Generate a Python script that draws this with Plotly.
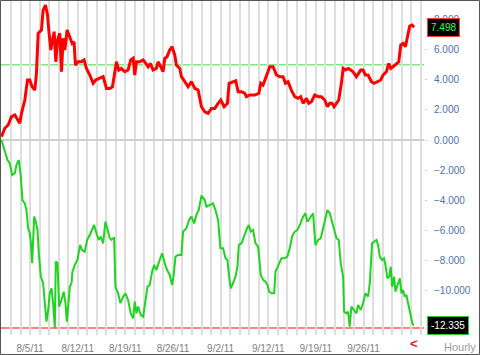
import plotly.graph_objects as go

# ---------------- data (x = trading-day index from 8/2/11, y = value) ----------------
red_x = [0.00, 0.35, 0.70, 1.05, 1.40, 1.68, 1.92, 2.10, 2.45, 2.73, 2.97, 3.22, 3.50, 3.67, 3.85,
         4.20, 4.37, 4.62, 4.83, 5.00, 5.18, 5.35, 5.53, 5.70, 5.88, 6.12, 6.30, 6.47, 6.65, 6.89,
         7.17, 7.42, 7.62, 7.76, 8.04, 8.39, 8.67, 8.92, 9.27, 9.62, 9.90, 10.32, 10.67, 11.02,
         11.37, 11.65, 11.89, 12.07, 12.31, 12.59, 12.94, 13.29, 13.57, 13.82, 13.99, 14.17, 14.52,
         14.87, 15.15, 15.39, 15.63, 15.91, 16.26, 16.44, 16.72, 16.96, 17.14, 17.38, 17.66, 17.91,
         18.19, 18.36, 18.71, 18.89, 19.24, 19.59, 19.94, 20.29, 20.64, 20.99, 21.34, 21.69, 22.04,
         22.39, 22.74, 23.02, 23.37, 23.72, 23.89, 24.31, 24.59, 24.84, 25.19, 25.54, 25.71, 26.06,
         26.59, 27.01, 27.22, 27.46, 27.81, 28.16, 28.51, 28.86, 29.21, 29.56, 29.80, 30.08, 30.43,
         30.78, 31.13, 31.41, 31.66, 32.01, 32.25, 32.53, 32.88, 33.23, 33.58, 33.93, 34.21, 34.46,
         34.70, 34.91, 35.16, 35.40, 35.68, 35.86, 36.10, 36.38, 36.66, 36.90, 37.25, 37.50, 37.71,
         37.95, 38.20, 38.48, 38.83, 39.11, 39.46, 39.81, 40.05, 40.40, 40.65, 40.86, 41.10, 41.45,
         41.70, 41.91, 42.15, 42.40, 42.68, 42.85, 43.10, 43.31]
red_y = [0.22, 0.78, 1.00, 1.55, 1.66, 1.33, 1.11, 1.77, 2.66, 3.99, 3.99, 3.54, 3.32, 4.43, 7.09,
         7.31, 8.64, 8.97, 8.31, 7.09, 5.98, 6.64, 7.20, 5.20, 6.64, 7.09, 4.54, 6.76, 5.98, 7.31,
         6.87, 6.42, 6.53, 4.98, 5.20, 5.20, 5.32, 4.76, 4.32, 3.77, 3.99, 4.10, 4.21, 3.43,
         3.43, 3.54, 4.54, 5.20, 4.65, 4.76, 4.54, 4.65, 5.32, 5.43, 4.32, 5.20, 5.20,
         5.32, 5.09, 4.87, 5.09, 4.65, 4.76, 5.20, 4.87, 4.54, 5.43, 5.54, 5.98, 6.20,
         5.65, 4.98, 4.76, 4.21, 3.88, 3.54, 3.88, 3.43, 3.32, 2.21, 1.88, 1.77, 2.10,
         2.10, 2.44, 2.66, 2.21, 2.44, 3.77, 3.88, 3.94, 3.21, 3.21, 3.10, 2.88, 2.99,
         2.99, 3.10, 3.77, 3.65, 4.21, 4.87, 4.87, 4.32, 4.21, 4.21, 3.77, 3.88, 3.32,
         2.88, 2.77, 2.88, 2.44, 2.77, 2.44, 2.55, 2.99, 2.88, 2.88, 2.66, 2.21, 2.44,
         2.44, 2.21, 2.44, 2.66, 3.77, 4.76, 4.65, 4.76, 4.65, 4.54, 4.21, 4.43, 4.65,
         4.65, 4.32, 4.32, 3.88, 3.77, 3.88, 3.99, 4.32, 4.54, 5.09, 4.76, 4.87, 5.09,
         5.20, 6.31, 6.42, 6.20, 6.98, 7.57, 7.64, 7.498]

green_x = [0.00, 0.35, 0.63, 0.87, 1.12, 1.40, 1.57, 1.82, 2.03, 2.20, 2.45, 2.62, 2.80, 2.97, 3.08,
           3.22, 3.32, 3.43, 3.60, 3.78, 3.92, 4.13, 4.37, 4.55, 4.72, 4.90, 5.07, 5.25, 5.42, 5.60,
           5.70, 5.88, 6.05, 6.30, 6.54, 6.72, 6.86, 7.00, 7.17, 7.35, 7.45, 7.69, 7.97, 8.25, 8.46,
           8.74, 8.99, 9.27, 9.51, 9.72, 9.97, 10.21, 10.42, 10.67, 10.91, 11.12, 11.37, 11.54, 11.82,
           11.96, 12.24, 12.49, 12.77, 13.01, 13.29, 13.57, 13.82, 13.99, 14.17, 14.34, 14.62, 14.87,
           15.11, 15.32, 15.56, 15.81, 16.02, 16.26, 16.61, 16.86, 17.14, 17.38, 17.66, 17.91, 18.08,
           18.26, 18.54, 18.89, 19.06, 19.41, 19.69, 19.94, 20.22, 20.46, 20.71, 20.99, 21.34, 21.51,
           21.86, 22.21, 22.46, 22.74, 22.98, 23.26, 23.51, 23.72, 23.89, 24.07, 24.31, 24.56, 24.77,
           24.91, 25.19, 25.47, 25.71, 25.96, 26.17, 26.41, 26.66, 26.94, 27.22, 27.46, 27.71, 27.92,
           28.09, 28.34, 28.62, 28.76, 29.04, 29.39, 29.73, 30.01, 30.26, 30.50, 30.78, 31.06, 31.31,
           31.66, 31.90, 32.11, 32.36, 32.71, 32.95, 33.23, 33.51, 33.76, 34.00, 34.21, 34.46, 34.70,
           34.91, 35.16, 35.40, 35.61, 35.86, 35.96, 36.20, 36.38, 36.55, 36.73, 37.01, 37.25, 37.43,
           37.71, 37.95, 38.20, 38.48, 38.66, 38.90, 39.11, 39.36, 39.53, 39.71, 39.95, 40.16, 40.30,
           40.51, 40.69, 40.86, 41.00, 41.21, 41.35, 41.63, 41.81, 41.98, 42.15, 42.33, 42.50, 42.68,
           42.96, 43.13, 43.27]
green_y = [0.00, -0.77, -1.33, -1.55, -2.33, -2.21, -1.66, -1.33, -2.44, -3.99, -4.21, -4.65, -5.87, -6.20, -6.76,
           -8.19, -6.09, -5.09, -5.43, -5.98, -7.53, -9.08, -9.52, -10.85, -12.07, -11.30, -10.19, -9.86, -10.85, -12.50,
           -8.08, -8.19, -11.07, -10.63, -10.08, -10.85, -12.07, -11.07, -9.75, -9.52, -8.75, -8.31, -7.97, -6.98, -7.31,
           -7.42, -6.64, -6.31, -5.98, -5.65, -6.20, -6.64, -6.42, -6.87, -5.43, -5.98, -6.53, -6.64, -6.47,
           -9.75, -10.19, -10.85, -10.41, -10.19, -10.63, -11.52, -11.85, -10.74, -11.52, -11.07, -11.63, -11.74,
           -10.63, -9.75, -9.63, -8.75, -8.31, -8.64, -7.97, -7.53, -8.19, -8.64, -8.97, -9.63, -8.97,
           -7.75, -7.64, -7.64, -6.09, -5.87, -5.32, -5.09, -5.54, -4.98, -4.65, -3.70, -3.99, -4.43,
           -4.32, -4.21, -4.65, -5.32, -7.20, -7.20, -7.86, -7.97, -9.08, -9.86, -9.52, -9.08, -8.42,
           -6.98, -6.87, -6.31, -5.98, -5.65, -6.09, -5.98, -6.87, -7.09, -8.97, -9.30, -9.41, -9.63,
           -10.08, -10.19, -10.19, -8.75, -8.31, -7.86, -7.86, -7.75, -7.20, -6.42, -6.09, -5.98, -5.65,
           -5.09, -4.87, -5.43, -5.20, -4.87, -6.98, -6.64, -6.53, -5.87, -5.09, -4.65, -4.87, -5.43,
           -5.87, -6.53, -6.64, -8.19, -9.08, -11.41, -11.52, -11.41, -12.40, -11.07, -11.30, -11.52, -10.96,
           -11.30, -10.85, -10.19, -10.41, -9.52, -6.87, -6.76, -6.64, -6.98, -7.75, -7.97, -7.86, -8.31,
           -9.19, -9.08, -8.42, -9.75, -9.08, -10.08, -9.52, -9.19, -10.19, -9.97, -10.41, -10.30, -10.85,
           -11.63, -12.18, -12.335]

tick_days = [3, 8, 13, 18, 23, 28, 33, 38]
tick_labels = ["8/5/11", "8/12/11", "8/19/11", "8/26/11", "9/2/11", "9/12/11", "9/19/11", "9/26/11"]
y_ticks = [-10, -8, -6, -4, -2, 0, 2, 4, 6, 8]
upper_level = 5.0
lower_level = -12.5
last_red = 7.498
last_green = -12.335

# ---------------- layout constants ----------------
W, H = 480, 355
ML, MR, MT, MB = 1, 56, 1, 20
PW, PH = W - ML - MR, H - MT - MB
FONT = "Liberation Sans, Arial, sans-serif"

def px_to_paper_x(px):
    return (px - ML) / PW

def px_to_paper_y(py):
    return (H - MB - py) / PH

fig = go.Figure()
fig.add_trace(go.Scatter(x=green_x, y=green_y, mode="lines",
                         line=dict(color="#1fd41f", width=2), hoverinfo="skip"))
fig.add_trace(go.Scatter(x=red_x, y=red_y, mode="lines",
                         line=dict(color="#ff0000", width=3), hoverinfo="skip"))

fig.add_shape(type="line", xref="paper", x0=0, x1=1, yref="y", y0=upper_level, y1=upper_level,
              line=dict(color="#80e880", width=1.5), layer="below")
fig.add_shape(type="line", xref="paper", x0=0, x1=1, yref="y", y0=lower_level, y1=lower_level,
              line=dict(color="#ff5a5a", width=1.5), layer="below")
# outer frame
fig.add_shape(type="rect", xref="paper", yref="paper",
              x0=px_to_paper_x(0.5), x1=px_to_paper_x(W - 0.5),
              y0=px_to_paper_y(H - 0.5), y1=px_to_paper_y(0.5),
              line=dict(color="#555555", width=1), layer="above")

fig.add_annotation(xref="paper", x=1, xanchor="left", xshift=3, yref="y", y=last_red,
                   yanchor="middle", text=f"{last_red:.3f}", showarrow=False,
                   font=dict(family=FONT, size=10, color="#3cff3c"),
                   bgcolor="#000000", bordercolor="#ff3b3b", borderwidth=1, borderpad=3)
fig.add_annotation(xref="paper", x=1, xanchor="left", xshift=3, yref="y", y=last_green,
                   yanchor="middle", text=f"{last_green:.3f}", showarrow=False,
                   font=dict(family=FONT, size=10, color="#ffffff"),
                   bgcolor="#000000", bordercolor="#2ecc2e", borderwidth=1, borderpad=3)
fig.add_annotation(xref="paper", x=px_to_paper_x(414), xanchor="center", yref="paper",
                   y=px_to_paper_y(343), yanchor="middle",
                   text="<b>&lt;</b>", showarrow=False,
                   font=dict(family=FONT, size=13, color="#e02020"))
fig.add_annotation(xref="paper", x=px_to_paper_x(478), xanchor="right", yref="paper",
                   y=px_to_paper_y(347), yanchor="middle", text="Hourly", showarrow=False,
                   font=dict(family=FONT, size=11, color="#9a9a9a"))

fig.update_layout(
    width=W, height=H, margin=dict(l=ML, r=MR, t=MT, b=MB),
    paper_bgcolor="#ffffff", plot_bgcolor="#ffffff", showlegend=False,
    font=dict(family=FONT),
    xaxis=dict(range=[-0.05, 44.35], tickmode="array", tickvals=tick_days, ticktext=tick_labels,
               showgrid=True, gridcolor="#dedede", gridwidth=1.5, zeroline=False, showline=False,
               ticks="", ticklabelstandoff=6, tickfont=dict(size=10, color="#808080"),
               minor=dict(dtick=1, tick0=0, showgrid=True, gridcolor="#dedede", gridwidth=1.5)),
    yaxis=dict(range=[-12.96, 9.24], side="right", tickmode="array", tickvals=y_ticks,
               tickformat=".3f", showgrid=False, zeroline=True, zerolinecolor="#d0d0d0",
               zerolinewidth=2, showline=False, ticks="outside", ticklen=2, tickcolor="#cfcfcf",
               ticklabelstandoff=5, tickfont=dict(size=10, color="#4a72b4")),
)

fig.write_html("out.html", config={"displayModeBar": False},
               post_script="document.body.style.margin='0';document.body.style.padding='0';")
